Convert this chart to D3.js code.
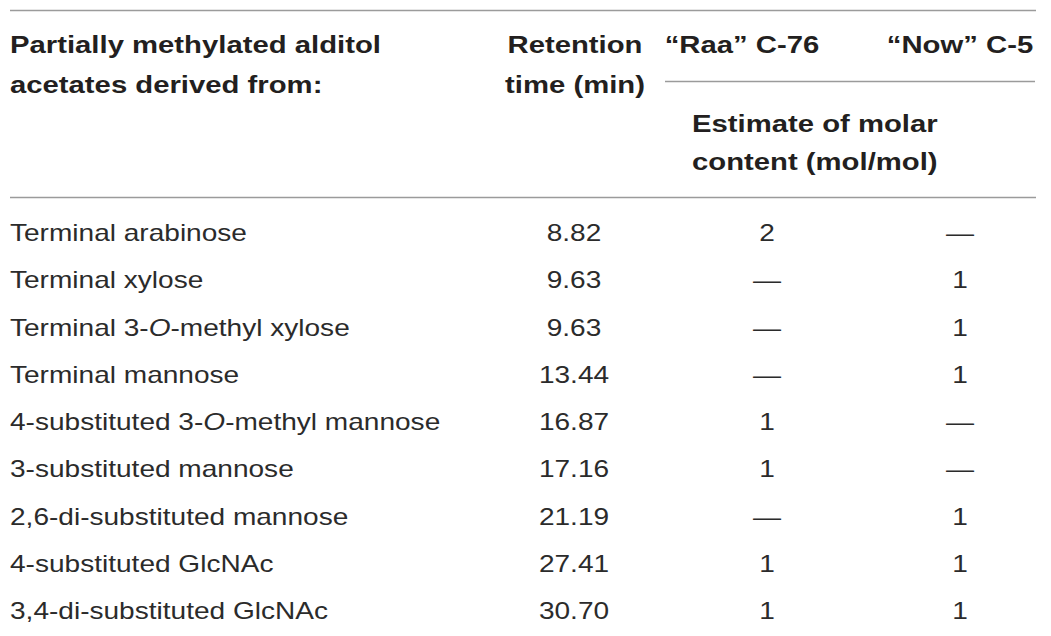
<!DOCTYPE html>
<html>
<head>
<meta charset="utf-8">
<script src="https://cdn.jsdelivr.net/npm/d3@7"></script>
<style>
  body { margin: 0; background: #fff; }
  svg { display: block; font-family: "Liberation Sans", Arial, sans-serif; }
</style>
</head>
<body>
<svg id="table"></svg>
<script>
// table content
const sugars = [
  "Terminal arabinose",
  "Terminal xylose",
  "Terminal 3-|O|-methyl xylose",
  "Terminal mannose",
  "4-substituted 3-|O|-methyl mannose",
  "3-substituted mannose",
  "2,6-di-substituted mannose",
  "4-substituted GlcNAc",
  "3,4-di-substituted GlcNAc"
]
const retention = ["8.82", "9.63", "9.63", "13.44", "16.87", "17.16", "21.19", "27.41", "30.70"]
const raa = ["2", "—", "—", "—", "1", "1", "—", "1", "1"]
const now = ["—", "1", "1", "1", "—", "—", "1", "1", "1"]

const width = 1051
const height = 636
const sx = 1.22   // the source type is set wider than Liberation Sans

const svg = d3.select("#table")
    .attr("width", width)
    .attr("height", height)
    .attr("viewBox", `0 0 ${width} ${height}`)

// row positions
const y = d3.scalePoint().domain(d3.range(sugars.length)).range([233, 611])

const ruleColor = "#9b9b9b"
const rule = (x1, x2, yy) => svg.append("line")
    .attr("x1", x1).attr("x2", x2)
    .attr("y1", yy).attr("y2", yy)
    .attr("stroke", ruleColor)
    .attr("stroke-width", 1.5)

rule(10, 1036, 10.5)
rule(665, 1035, 81.5)
rule(10, 1036, 197.5)

const place = (x, yy) => `translate(${x},${yy}) scale(${sx},1)`

// header
const head = svg.append("g")
    .style("font-weight", "bold")
    .style("font-size", "24px")
    .attr("fill", "#231f20")

const headText = (txt, x, yy, anchor) => head.append("text")
    .attr("transform", place(x, yy))
    .attr("dy", "0.35em")
    .attr("text-anchor", anchor)
    .text(txt)

headText("Partially methylated alditol", 10, 45, "start")
headText("acetates derived from:", 10, 85, "start")
headText("Retention", 575, 45, "middle")
headText("time (min)", 575, 85, "middle")
headText("\u201CRaa\u201D C-76", 742, 45, "middle")
headText("\u201CNow\u201D C-5", 960, 45, "middle")
headText("Estimate of molar", 692, 124, "start")
headText("content (mol/mol)", 692, 162, "start")

// body rows
const body = svg.append("g")
    .style("font-size", "23px")
    .attr("fill", "#2b2b2b")

body.selectAll(".name")
    .data(sugars)
    .join("text")
    .attr("class", "name")
    .attr("transform", (d, i) => place(10, y(i)))
    .attr("dy", "0.35em")
    .each(function (d) {
        const parts = d.split("|")
        d3.select(this).selectAll("tspan")
            .data(parts)
            .join("tspan")
            .style("font-style", (p, j) => j % 2 ? "italic" : "normal")
            .text(p => p)
    })

const cols = [
    { values: retention, x: 574 },
    { values: raa, x: 767 },
    { values: now, x: 960 }
]

cols.forEach(col => {
    body.selectAll(null)
        .data(col.values)
        .join("text")
        .attr("transform", (d, i) => place(col.x, y(i)))
        .attr("dy", "0.35em")
        .attr("text-anchor", "middle")
        .text(d => d)
})
</script>
</body>
</html>
